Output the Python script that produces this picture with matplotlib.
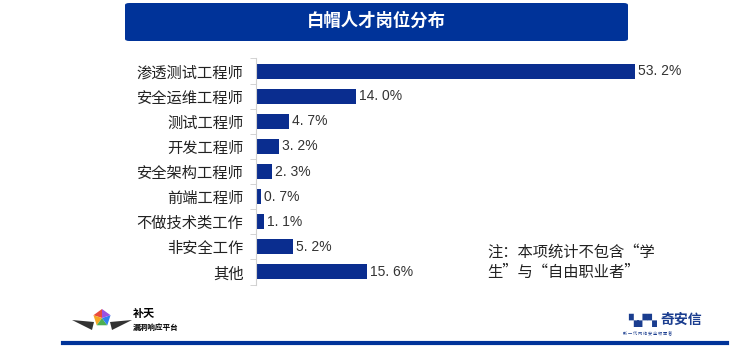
import matplotlib.pyplot as plt
from matplotlib.patches import FancyBboxPatch, Polygon
import numpy as np

plt.rcParams['font.family'] = ['Noto Sans CJK SC', 'DejaVu Sans']

# 岗位分布数据
roles = ['渗透测试工程师', '安全运维工程师', '测试工程师', '开发工程师', '安全架构工程师',
         '前端工程师', '不做技术类工作', '非安全工作', '其他']
shares = [53.2, 14.0, 4.7, 3.2, 2.3, 0.7, 1.1, 5.2, 15.6]

navy = '#0a2d8f'
W, H = 736, 346
fig = plt.figure(figsize=(W / 100, H / 100), dpi=100)

# 标题栏
banner = FancyBboxPatch((125 / W, 1 - 41 / H), 503 / W, 38 / H,
                        boxstyle='round,pad=0,rounding_size=0.006',
                        transform=fig.transFigure, facecolor='#003399',
                        edgecolor='none')
fig.patches.append(banner)
fig.text(376 / W, 1 - 21 / H, '白帽人才岗位分布', color='white', fontsize=12.5,
         fontweight='bold', ha='center', va='center')

ax = fig.add_axes([256 / W, 1 - 284.5 / H, 444 / W, 226 / H])
y = np.arange(len(roles))
ax.barh(y, shares, height=0.6, color=navy)
ax.set_ylim(len(roles) - 0.5, -0.5)
ax.set_xlim(0, 444 / 7.12)
for yi, v in zip(y, shares):
    ax.text(v + 0.4, yi, f'{v:.1f}%'.replace('.', '. '), va='center', ha='left',
            fontsize=10, family='Liberation Sans', color='#333333')

ax.set_yticks(y)
ax.set_yticklabels(roles, fontsize=11, color='#222222')
ax.set_yticks(np.arange(len(roles) + 1) - 0.5, minor=True)
ax.tick_params(axis='y', which='major', length=0, pad=9)
ax.tick_params(axis='y', which='minor', length=4, color='#cccccc')
ax.set_xticks([])
for side in ['top', 'right', 'bottom']:
    ax.spines[side].set_visible(False)
ax.spines['left'].set_color('#d0d0d0')

fig.text(487 / W, 1 - 252 / H, '注：本项统计不包含“学', fontsize=11, va='center',
         color='#222222')
fig.text(487 / W, 1 - 272 / H, '生”与“自由职业者”', fontsize=11, va='center',
         color='#222222')

# 底部横线
fig.add_artist(plt.Line2D([63 / W, 727 / W], [1 - 343 / H, 1 - 343 / H],
                          transform=fig.transFigure, color='#003399', lw=3))

# 补天标志
cx, cy = 102 / W, 1 - 318 / H
cols = ['#e94b3c', '#f5a623', '#4caf50', '#2f80ed', '#9b51e0']
for k, c in enumerate(cols):
    a0 = np.pi / 2 + k * 2 * np.pi / 5
    pts = [(cx, cy),
           (cx + 9 / W * np.cos(a0), cy + 9 / H * np.sin(a0)),
           (cx + 9 / W * np.cos(a0 + 2 * np.pi / 5), cy + 9 / H * np.sin(a0 + 2 * np.pi / 5))]
    fig.patches.append(Polygon(pts, closed=True, transform=fig.transFigure,
                               facecolor=c, edgecolor='none'))
for sgn in (-1, 1):
    wing = [(cx + sgn * 8 / W, cy - 4 / H), (cx + sgn * 30 / W, cy - 2 / H),
            (cx + sgn * 10 / W, cy - 12 / H)]
    fig.patches.append(Polygon(wing, closed=True, transform=fig.transFigure,
                               facecolor='#333333', edgecolor='none'))
fig.text(133 / W, 1 - 313 / H, '补天', fontsize=8, fontweight='bold', va='center')
fig.text(133 / W, 1 - 327 / H, '漏洞响应平台', fontsize=5.5, fontweight='bold', va='center')

# 奇安信标志
fig.text(628 / W, 1 - 320 / H, '▚▞▚', fontsize=9, color='#1a3d8f', va='center',
         family='DejaVu Sans')
fig.text(660 / W, 1 - 320 / H, '奇安信', fontsize=10, color='#1a3d8f',
         fontweight='bold', va='center')
fig.text(623 / W, 1 - 333 / H, '新 一 代 网 络 安 全 领 军 者', fontsize=3,
         color='#1a3d8f', va='center')

fig.savefig('out.png', dpi=100)
